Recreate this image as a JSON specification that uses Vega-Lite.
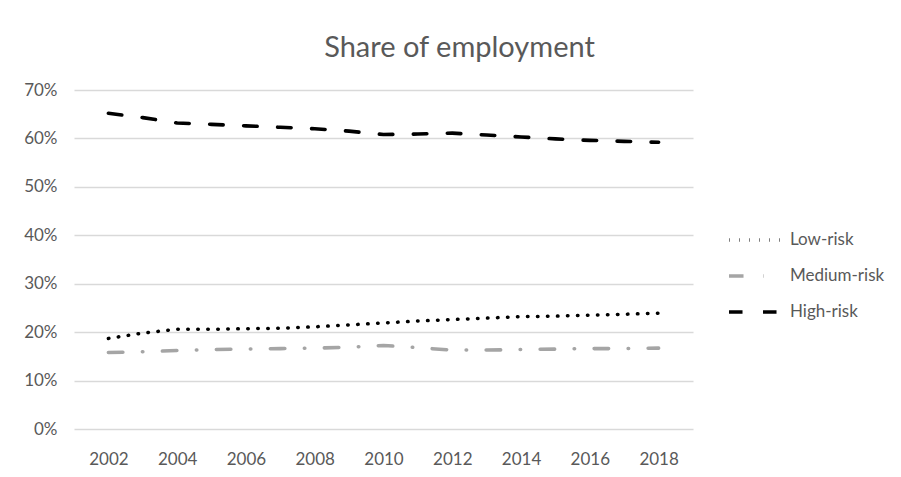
{
  "$schema": "https://vega.github.io/schema/vega-lite/v6.json",
  "autosize": "none",
  "width": 619,
  "height": 339,
  "padding": {"left": 74, "top": 90, "right": 208, "bottom": 48},
  "background": "white",
  "title": {
    "text": "Share of employment",
    "anchor": "middle",
    "frame": "group",
    "dx": 76,
    "baseline": "alphabetic",
    "offset": -5,
    "font": "Lato",
    "fontSize": 29,
    "fontWeight": "normal",
    "color": "#595959"
  },
  "config": {
    "view": {"stroke": null},
    "font": "Lato",
    "axis": {"labelFont": "Lato", "labelColor": "#595959", "labelFontSize": 17, "domain": false, "ticks": false},
    "legend": {"labelFont": "Lato", "labelColor": "#595959", "labelFontSize": 17}
  },
  "data": {
    "values": [
      {"year": 2002, "risk": "Low-risk", "share": 0.187},
      {"year": 2003, "risk": "Low-risk", "share": 0.198},
      {"year": 2004, "risk": "Low-risk", "share": 0.206},
      {"year": 2005, "risk": "Low-risk", "share": 0.206},
      {"year": 2006, "risk": "Low-risk", "share": 0.207},
      {"year": 2007, "risk": "Low-risk", "share": 0.208},
      {"year": 2008, "risk": "Low-risk", "share": 0.211},
      {"year": 2009, "risk": "Low-risk", "share": 0.215},
      {"year": 2010, "risk": "Low-risk", "share": 0.219},
      {"year": 2011, "risk": "Low-risk", "share": 0.223},
      {"year": 2012, "risk": "Low-risk", "share": 0.226},
      {"year": 2013, "risk": "Low-risk", "share": 0.229},
      {"year": 2014, "risk": "Low-risk", "share": 0.232},
      {"year": 2015, "risk": "Low-risk", "share": 0.233},
      {"year": 2016, "risk": "Low-risk", "share": 0.235},
      {"year": 2017, "risk": "Low-risk", "share": 0.237},
      {"year": 2018, "risk": "Low-risk", "share": 0.239},
      {"year": 2002, "risk": "Medium-risk", "share": 0.158},
      {"year": 2003, "risk": "Medium-risk", "share": 0.1595},
      {"year": 2004, "risk": "Medium-risk", "share": 0.162},
      {"year": 2005, "risk": "Medium-risk", "share": 0.164},
      {"year": 2006, "risk": "Medium-risk", "share": 0.165},
      {"year": 2007, "risk": "Medium-risk", "share": 0.166},
      {"year": 2008, "risk": "Medium-risk", "share": 0.167},
      {"year": 2009, "risk": "Medium-risk", "share": 0.169},
      {"year": 2010, "risk": "Medium-risk", "share": 0.1725},
      {"year": 2011, "risk": "Medium-risk", "share": 0.168},
      {"year": 2012, "risk": "Medium-risk", "share": 0.163},
      {"year": 2013, "risk": "Medium-risk", "share": 0.163},
      {"year": 2014, "risk": "Medium-risk", "share": 0.164},
      {"year": 2015, "risk": "Medium-risk", "share": 0.165},
      {"year": 2016, "risk": "Medium-risk", "share": 0.166},
      {"year": 2017, "risk": "Medium-risk", "share": 0.166},
      {"year": 2018, "risk": "Medium-risk", "share": 0.167},
      {"year": 2002, "risk": "High-risk", "share": 0.652},
      {"year": 2003, "risk": "High-risk", "share": 0.643},
      {"year": 2004, "risk": "High-risk", "share": 0.632},
      {"year": 2005, "risk": "High-risk", "share": 0.629},
      {"year": 2006, "risk": "High-risk", "share": 0.626},
      {"year": 2007, "risk": "High-risk", "share": 0.623},
      {"year": 2008, "risk": "High-risk", "share": 0.620},
      {"year": 2009, "risk": "High-risk", "share": 0.615},
      {"year": 2010, "risk": "High-risk", "share": 0.608},
      {"year": 2011, "risk": "High-risk", "share": 0.609},
      {"year": 2012, "risk": "High-risk", "share": 0.611},
      {"year": 2013, "risk": "High-risk", "share": 0.607},
      {"year": 2014, "risk": "High-risk", "share": 0.603},
      {"year": 2015, "risk": "High-risk", "share": 0.599},
      {"year": 2016, "risk": "High-risk", "share": 0.596},
      {"year": 2017, "risk": "High-risk", "share": 0.594},
      {"year": 2018, "risk": "High-risk", "share": 0.592}
    ]
  },
  "mark": {"type": "line", "strokeCap": "round", "strokeJoin": "round"},
  "encoding": {
    "x": {
      "field": "year", "type": "quantitative",
      "scale": {"domain": [2001, 2019], "nice": false, "zero": false},
      "axis": {"title": null, "grid": false, "values": [2002, 2004, 2006, 2008, 2010, 2012, 2014, 2016, 2018], "format": "d", "labelPadding": 22}
    },
    "y": {
      "field": "share", "type": "quantitative",
      "scale": {"domain": [0, 0.7], "nice": false},
      "axis": {"title": null, "values": [0, 0.1, 0.2, 0.3, 0.4, 0.5, 0.6, 0.7], "format": ".0%", "labelPadding": 17, "gridColor": "#d9d9d9", "gridWidth": 1.3}
    },
    "color": {
      "field": "risk", "type": "nominal",
      "scale": {"domain": ["Low-risk", "Medium-risk", "High-risk"], "range": ["#000000", "#a5a5a5", "#000000"]},
      "legend": {"title": null, "orient": "none", "legendX": 653, "legendY": 122, "symbolType": "stroke", "symbolSize": 2700, "rowPadding": -1.5, "labelOffset": 7}
    },
    "strokeDash": {
      "field": "risk", "type": "nominal",
      "scale": {"domain": ["Low-risk", "Medium-risk", "High-risk"], "range": [[0.5, 9.5], [14.5, 19.5, 0.5, 19.5], [13.5, 20.5]]}
    },
    "strokeWidth": {
      "field": "risk", "type": "nominal",
      "scale": {"domain": ["Low-risk", "Medium-risk", "High-risk"], "range": [3.5, 3.6, 4.6]}
    }
  }
}
